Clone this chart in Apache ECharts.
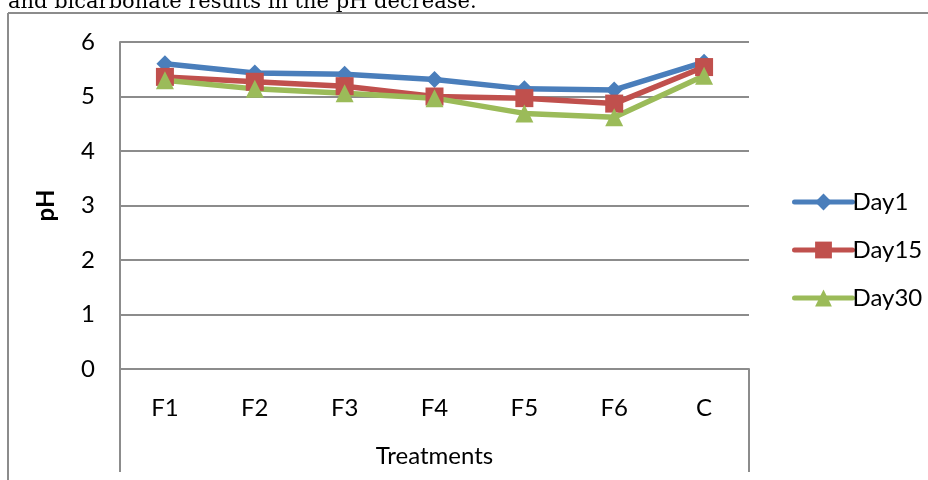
<!DOCTYPE html>
<html>
<head>
<meta charset="utf-8">
<script src="https://cdn.jsdelivr.net/npm/echarts@6/dist/echarts.min.js"></script>
<style>
  html, body { margin: 0; padding: 0; background: #fff; }
  #chart { width: 928px; height: 480px; }
</style>
</head>
<body>
<div id="chart"></div>
<script>
// pH of each treatment measured on three days
const treatments = ['F1', 'F2', 'F3', 'F4', 'F5', 'F6', 'C'];
const day1 = [5.60, 5.43, 5.41, 5.31, 5.14, 5.12, 5.63];
const day15 = [5.36, 5.27, 5.19, 5.00, 4.97, 4.87, 5.54];
const day30 = [5.30, 5.14, 5.06, 4.97, 4.69, 4.62, 5.38];
const yTicks = [0, 1, 2, 3, 4, 5, 6];

const FONT = 'Lato, "Noto Sans", sans-serif';
const FS = 24;
const FRAME = '#8c8c8c';

const chart = echarts.init(document.getElementById('chart'), null, { renderer: 'canvas' });

function series(name, data, color, symbol, size) {
  return {
    name: name,
    type: 'line',
    data: data,
    symbol: symbol,
    symbolSize: size,
    lineStyle: { width: 5.5, color: color },
    itemStyle: { color: color },
    emphasis: { disabled: true },
    animation: false
  };
}

chart.setOption({
  animation: false,
  grid: { left: 120, right: 179, top: 42, bottom: 111 },
  legend: {
    orient: 'vertical',
    left: 787,
    top: 185,
    itemWidth: 58,
    itemHeight: 21,
    itemGap: 24,
    lineStyle: { width: 5, cap: 'round' },
    textStyle: { fontFamily: FONT, fontSize: FS, color: '#000', padding: [0, 0, 0, -5] },
    data: ['Day1', 'Day15', 'Day30']
  },
  xAxis: {
    type: 'category',
    data: treatments,
    boundaryGap: true,
    name: 'Treatments',
    nameLocation: 'middle',
    nameGap: 75,
    nameTextStyle: { fontFamily: FONT, fontSize: FS, color: '#000' },
    axisLine: { lineStyle: { color: FRAME, width: 2 } },
    axisTick: { show: false },
    axisLabel: { fontFamily: FONT, fontSize: FS, color: '#000', margin: 27 }
  },
  yAxis: {
    type: 'value',
    min: 0,
    max: 6,
    interval: 1,
    name: 'pH',
    nameLocation: 'middle',
    nameGap: 62,
    nameTextStyle: { fontFamily: FONT, fontSize: FS, fontWeight: 'bold', color: '#000' },
    axisLine: { show: true, lineStyle: { color: FRAME, width: 2 } },
    axisTick: { show: false },
    axisLabel: {
      fontFamily: FONT, fontSize: FS, color: '#000', margin: 25,
      formatter: v => (yTicks.indexOf(v) >= 0 ? String(v) : '')
    },
    splitLine: { lineStyle: { color: FRAME, width: 2 } }
  },
  graphic: [
    // caption from the surrounding text, cut off at the top edge
    {
      type: 'text', x: 8, y: 13, silent: true,
      style: { text: 'and bicarbonate results in the pH decrease.', font: '21px "DejaVu Serif", serif', fill: '#000', verticalAlign: 'bottom' }
    },
    // outer chart frame
    { type: 'line', silent: true, shape: { x1: 8, y1: 13, x2: 928, y2: 13 }, style: { stroke: FRAME, lineWidth: 2 } },
    { type: 'line', silent: true, shape: { x1: 8, y1: 13, x2: 8, y2: 480 }, style: { stroke: FRAME, lineWidth: 2 } },
    // category label box below the plot
    { type: 'line', silent: true, shape: { x1: 120, y1: 369, x2: 120, y2: 472 }, style: { stroke: FRAME, lineWidth: 2 } },
    { type: 'line', silent: true, shape: { x1: 749, y1: 369, x2: 749, y2: 472 }, style: { stroke: FRAME, lineWidth: 2 } }
  ],
  series: [
    series('Day1', day1, '#4a7ebb', 'diamond', 17),
    series('Day15', day15, '#c0504d', 'rect', 18),
    series('Day30', day30, '#9bbb59', 'triangle', 18)
  ]
});
</script>
</body>
</html>
